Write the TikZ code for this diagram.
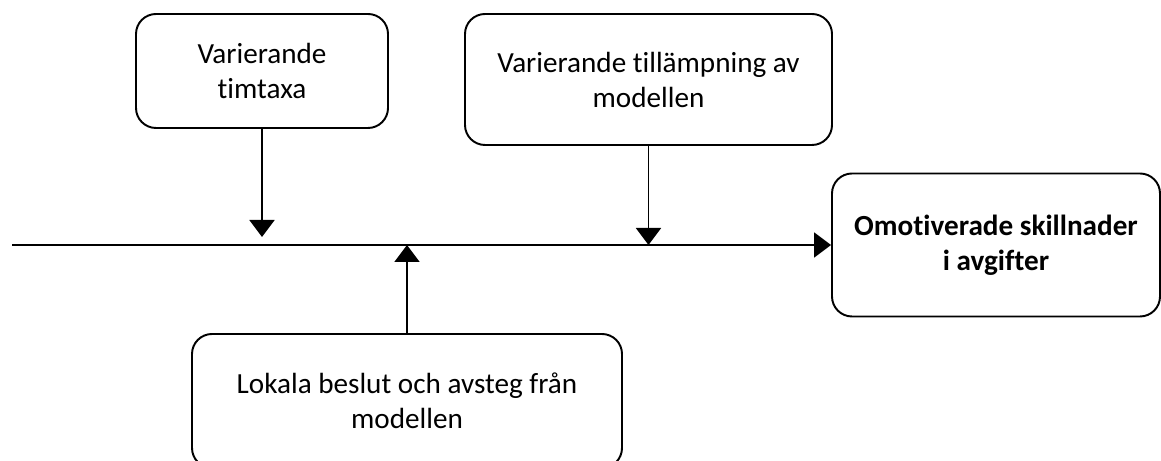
\documentclass[tikz,border=0pt]{standalone}
\usepackage{fontspec}
\setmainfont{Carlito}[Ligatures=CommonOff]
\usetikzlibrary{arrows.meta}

\begin{document}
\begin{tikzpicture}[
    box/.style={draw, line width=1.1pt, rounded corners=0.4cm, align=center,
        inner sep=0pt, font=\fontsize{16.6}{19.9}\selectfont},
    flow/.style={line width=1.1pt, -{Triangle[length=0.34cm, width=0.5cm]}}
  ]
    % Fix the page size
    \useasboundingbox (0,0) rectangle (23.22,9.22);
    \clip (0,0) rectangle (23.22,9.22);

    % The boxes with the causes and the result
    \node[box, minimum width=5.04cm, minimum height=2.28cm] (timtaxa) at (5.24,7.80) {Varierande\\timtaxa};
    \node[box, minimum width=7.34cm, minimum height=2.62cm] (tillampning) at (12.97,7.63) {Varierande tillämpning av\\modellen};
    \node[box, minimum width=8.6cm, minimum height=2.68cm] (lokala) at (8.14,1.20) {Lokala beslut och avsteg från\\modellen};
    \node[box, minimum width=6.56cm, minimum height=2.86cm,
        font=\fontsize{16.6}{19.9}\selectfont\bfseries] (skillnader) at (19.92,4.32) {Omotiverade skillnader\\i avgifter};

    % Start of the main line and end of the first arrow
    \coordinate (axisstart) at (0.24,4.32);
    \coordinate (timtaxaend) at (5.24,4.48);

    % Main line into the result
    \draw[flow] (axisstart) -- (skillnader.west);

    % Arrows from the causes onto the main line
    \draw[flow] (timtaxa.south) -- (timtaxaend);
    \draw[flow] (tillampning.south) -- (tillampning.south |- axisstart);
    \draw[flow] (lokala.north) -- (lokala.north |- axisstart);

\end{tikzpicture}
\end{document}
